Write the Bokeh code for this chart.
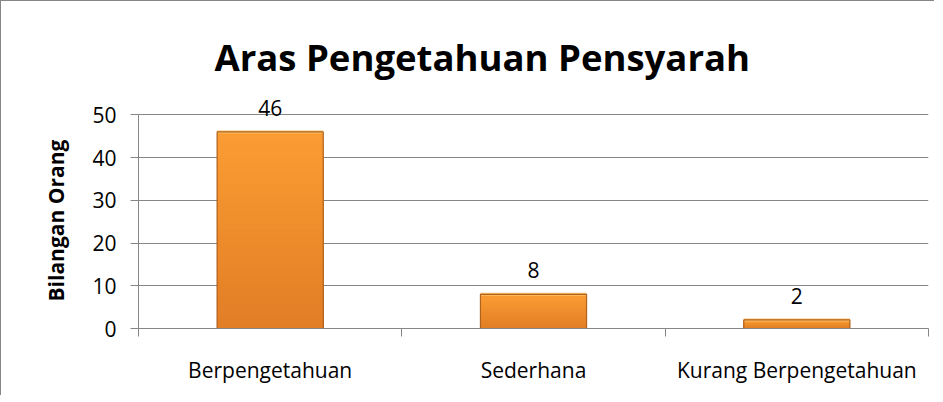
from bokeh.plotting import figure
from bokeh.models import Range1d, FixedTicker, Title, ColumnDataSource, LabelSet
from bokeh.core.properties import value
from bokeh.embed import file_html
from bokeh.resources import INLINE

categories = ["Berpengetahuan", "Sederhana", "Kurang Berpengetahuan"]
counts = [46, 8, 2]
y_ticks = [0, 10, 20, 30, 40, 50]
title_text = "Aras Pengetahuan Pensyarah"
y_label = "Bilangan Orang"

FONT = "Open Sans"
GRID = "#868686"

p = figure(frame_width=790, frame_height=235,
           min_border_left=137, min_border_top=92, min_border_right=6, min_border_bottom=67,
           x_range=Range1d(0, len(categories)), y_range=Range1d(0, 55),
           output_backend="svg", toolbar_location=None, title=None)
p.styles = {"border-left": "1px solid #868686", "border-top": "1px solid #868686"}
p.outline_line_color = None
p.background_fill_color = "white"
p.border_fill_color = "white"

t = Title(text=title_text, align="left", offset=76, text_font=FONT,
          text_font_size="36.5px", text_font_style="bold", text_color="black",
          standoff=24)
p.add_layout(t, "above")

# y-axis label as a left-side title so that it centres on the 0-50 span
yl = Title(text=y_label, align="left", offset=27, vertical_align="bottom",
           text_font=FONT, text_font_size="21px", text_font_style="bold",
           text_color="black", standoff=40)
p.add_layout(yl, "left")

centers = [i + 0.5 for i in range(len(categories))]
bw = 0.403

# gradient: overlapping bars, tallest (top colour) first
n = 30
top_c = (250, 156, 50)
bot_c = (226, 126, 38)
xs, tops, cols = [], [], []
for k in range(n):
    m = k / (n - 1)
    col = tuple(int(round(top_c[j] + (bot_c[j] - top_c[j]) * m)) for j in range(3))
    for c, v in zip(centers, counts):
        xs.append(c)
        tops.append(v * (1 - k / n))
        cols.append("#%02x%02x%02x" % col)
p.vbar(x=xs, bottom=0, top=tops, width=bw, fill_color=cols, line_color=None)
left_edges = [c - bw / 2 for c in centers]
right_edges = [c + bw / 2 for c in centers]
p.segment(x0=left_edges, y0=counts, x1=right_edges, y1=counts,
          line_color="#fcc066", line_width=3)
p.vbar(x=centers, top=counts, bottom=0, width=bw, fill_color=None,
       line_color="#b0621f", line_width=1.2)

src = ColumnDataSource(dict(x=centers, y=counts, t=[str(v) for v in counts]))
labels = LabelSet(x="x", y="y", text="t", source=src, y_offset=24, text_align="center",
                  text_baseline="middle", text_font=value(FONT), text_font_size=value("21px"),
                  text_color=value("black"))
p.add_layout(labels)

# axes
p.yaxis.ticker = FixedTicker(ticks=y_ticks)
p.yaxis.bounds = (0, 50)
p.yaxis.axis_line_color = GRID
p.yaxis.major_tick_line_color = GRID
p.yaxis.major_tick_in = 0
p.yaxis.major_tick_out = 8
p.yaxis.minor_tick_line_color = None
p.yaxis.major_label_standoff = 14
p.yaxis.major_label_text_font = FONT
p.yaxis.major_label_text_font_size = "21px"
p.yaxis.major_label_text_color = "black"

p.xaxis.ticker = FixedTicker(ticks=centers, minor_ticks=list(range(len(categories) + 1)))
p.xaxis.major_label_overrides = {c: cat for c, cat in zip(centers, categories)}
p.xaxis.axis_line_color = GRID
p.xaxis.major_tick_line_color = None
p.xaxis.minor_tick_line_color = GRID
p.xaxis.minor_tick_in = 0
p.xaxis.minor_tick_out = 8
p.xaxis.major_tick_out = 8
p.xaxis.major_label_standoff = 19
p.xaxis.major_label_text_font = FONT
p.xaxis.major_label_text_font_size = "21px"
p.xaxis.major_label_text_color = "black"

p.xgrid.grid_line_color = None
p.ygrid.ticker = FixedTicker(ticks=y_ticks)
p.ygrid.grid_line_color = GRID
p.ygrid.grid_line_width = 1

open("out.html", "w").write(file_html(p, INLINE))
